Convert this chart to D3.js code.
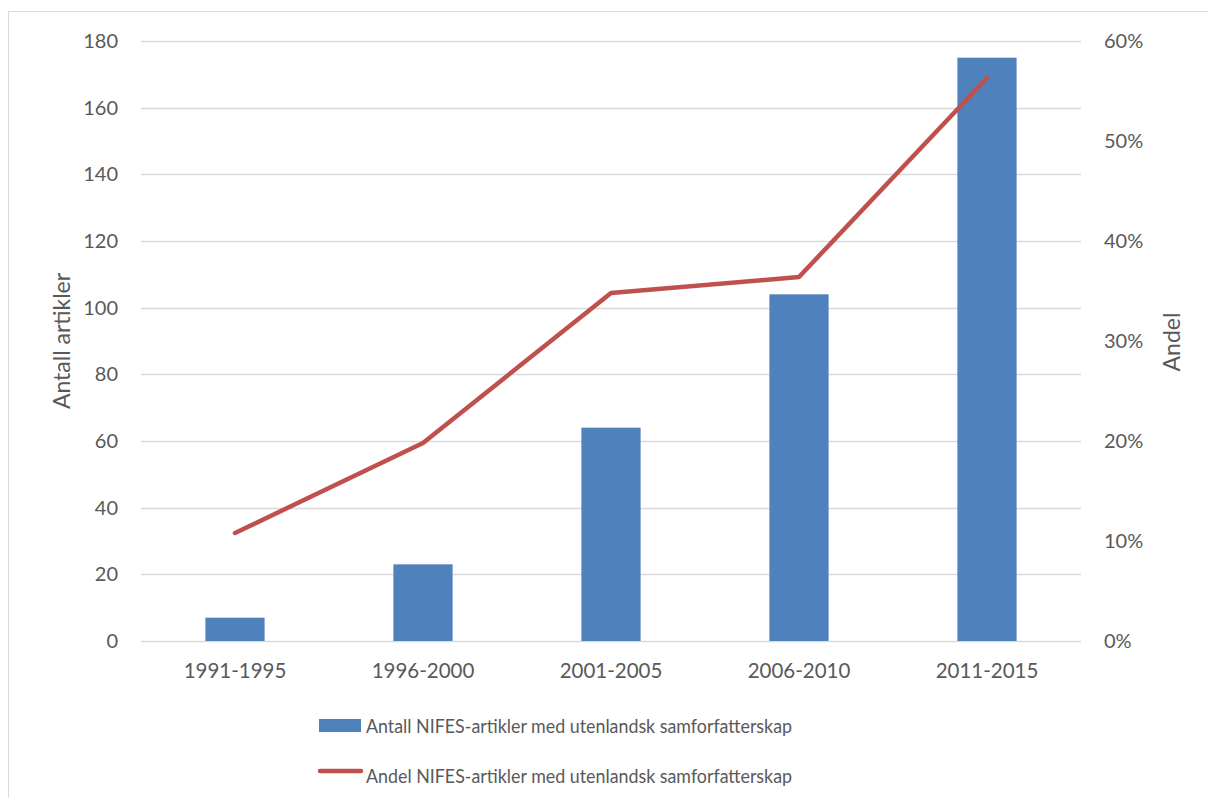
<!DOCTYPE html>
<html>
<head>
<meta charset="utf-8">
<script src="https://cdn.jsdelivr.net/npm/d3@7"></script>
<style>
  body { margin: 0; background: #fff; }
  svg text { font-family: Lato, "Open Sans", sans-serif; fill: #595959; }
</style>
</head>
<body>
<div id="chart"></div>
<script>
// Data
const periods = ["1991-1995", "1996-2000", "2001-2005", "2006-2010", "2011-2015"];
const antall = [7, 23, 64, 104, 175];
const andel = [0.108, 0.198, 0.348, 0.364, 0.563];
const leftTicks = [0, 20, 40, 60, 80, 100, 120, 140, 160, 180];
const rightTicks = [0, 0.1, 0.2, 0.3, 0.4, 0.5, 0.6];
const seriesNames = [
  "Antall NIFES-artikler med utenlandsk samforfatterskap",
  "Andel NIFES-artikler med utenlandsk samforfatterskap"
];

const width = 1208;
const height = 798;
const marginLeft = 141;
const marginRight = 127;
const marginTop = 41;
const plotBottom = 641;

const barColor = "#4F81BD";
const lineColor = "#C0504D";

const svg = d3.select("#chart").append("svg")
  .attr("width", width)
  .attr("height", height);

// chart frame
svg.append("rect")
  .attr("x", 8.5).attr("y", 11.5)
  .attr("width", width).attr("height", height)
  .attr("fill", "none")
  .attr("stroke", "#d9d9d9");

const x = d3.scaleBand()
  .domain(periods)
  .range([marginLeft, width - marginRight])
  .padding(0);

const y = d3.scaleLinear().domain([0, 180]).range([plotBottom, marginTop]);
const y2 = d3.scaleLinear().domain([0, 0.6]).range([plotBottom, marginTop]);

// gridlines
svg.append("g")
  .selectAll("line")
  .data(leftTicks)
  .join("line")
  .attr("x1", marginLeft).attr("x2", width - marginRight)
  .attr("y1", d => Math.round(y(d)) + 0.5).attr("y2", d => Math.round(y(d)) + 0.5)
  .attr("stroke", "#d9d9d9")
  .attr("stroke-width", 1.3);

// left axis
const gy = svg.append("g")
  .attr("transform", `translate(${marginLeft - 23},0)`)
  .call(d3.axisLeft(y).tickValues(leftTicks).tickSize(0).tickPadding(0))
  .call(g => g.select(".domain").remove());
gy.selectAll("text").attr("font-size", 20).attr("font-family", null);

// right axis
const gy2 = svg.append("g")
  .attr("transform", `translate(${width - marginRight + 23},0)`)
  .call(d3.axisRight(y2).tickValues(rightTicks).tickFormat(d3.format(".0%")).tickSize(0).tickPadding(0))
  .call(g => g.select(".domain").remove());
gy2.selectAll("text").attr("font-size", 20).attr("font-family", null);

// x axis
const gx = svg.append("g")
  .attr("transform", `translate(0,${plotBottom + 19})`)
  .call(d3.axisBottom(x).tickSize(0).tickPadding(0))
  .call(g => g.select(".domain").remove());
gx.selectAll("text").attr("font-size", 20.5).attr("font-family", null).attr("dy", "0.9em");

// bars
const barW = x.bandwidth() * 0.315;
svg.append("g")
  .attr("fill", barColor)
  .selectAll("rect")
  .data(antall)
  .join("rect")
  .attr("x", (d, i) => x(periods[i]) + (x.bandwidth() - barW) / 2)
  .attr("y", d => y(d))
  .attr("width", barW)
  .attr("height", d => y(0) - y(d));

// line
const line = d3.line()
  .x((d, i) => x(periods[i]) + x.bandwidth() / 2)
  .y(d => y2(d));

svg.append("path")
  .datum(andel)
  .attr("fill", "none")
  .attr("stroke", lineColor)
  .attr("stroke-width", 4.5)
  .attr("stroke-linecap", "round")
  .attr("stroke-linejoin", "round")
  .attr("d", line);

// axis titles
svg.append("text")
  .attr("transform", `translate(70,341) rotate(-90)`)
  .attr("text-anchor", "middle")
  .attr("font-size", 23)
  .text("Antall artikler");

svg.append("text")
  .attr("transform", `translate(1180,342) rotate(-90)`)
  .attr("text-anchor", "middle")
  .attr("font-size", 23)
  .text("Andel");

// legend
const legend = svg.append("g");
legend.append("rect")
  .attr("x", 319).attr("y", 719)
  .attr("width", 42).attr("height", 13)
  .attr("fill", barColor);
legend.append("line")
  .attr("x1", 320).attr("x2", 361)
  .attr("y1", 771).attr("y2", 771)
  .attr("stroke", lineColor)
  .attr("stroke-width", 4.5)
  .attr("stroke-linecap", "round");
legend.selectAll("text")
  .data(seriesNames)
  .join("text")
  .attr("x", 366)
  .attr("y", (d, i) => 733 + i * 50)
  .attr("font-size", 19.5)
  .attr("textLength", 426)
  .attr("lengthAdjust", "spacingAndGlyphs")
  .text(d => d);
</script>
</body>
</html>
